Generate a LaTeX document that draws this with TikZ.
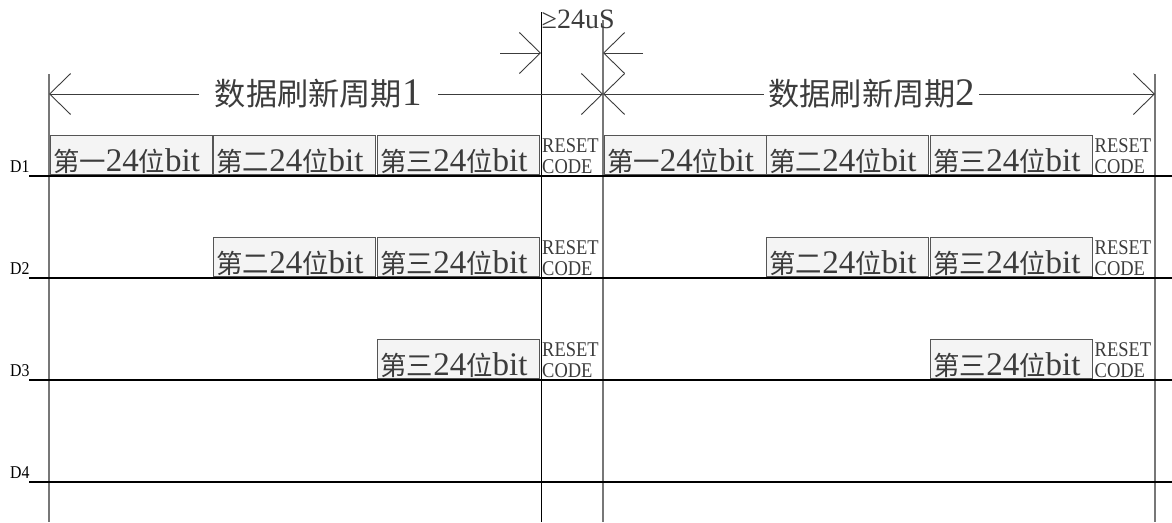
\documentclass[tikz,border=0pt]{standalone}
\usepackage{fontspec}
\setmainfont{Liberation Serif}
\newfontfamily\cjk[Scale=0.8]{Noto Sans CJK SC}
\newfontfamily\narrowrm[FakeStretch=0.88]{Liberation Serif}
\usepackage{tikz}
\usetikzlibrary{%
  arrows.meta,%
  positioning%
}
\definecolor{boxgray}{HTML}{555555}
\definecolor{boxfill}{HTML}{F4F4F4}
\definecolor{textgray}{HTML}{3C3C3C}
\definecolor{railgray}{HTML}{777777}
\newcommand{\zh}[1]{{\cjk #1}}
\newcommand{\bits}[1]{\zh{第#1}24\zh{位}bit}

\begin{document}
\begin{tikzpicture}[x=1pt, y=-1pt,
  >={Straight Barb[length=21pt,width=41pt]},
  bitbox/.style={draw=boxgray, fill=boxfill, line width=1pt, anchor=south west,
    minimum width=162pt, minimum height=39pt, text width=156pt, inner xsep=3pt,
    inner ysep=0pt, text height=34pt, text depth=0pt, align=left, text=textgray,
    font=\fontsize{33}{33}\selectfont},
  rst/.style={anchor=north west, inner sep=0pt, align=left, text=textgray,
    font=\narrowrm\fontsize{21}{21}\selectfont},
  chan/.style={anchor=base west, inner sep=0pt, font=\narrowrm\fontsize{18}{18}\selectfont},
  rail/.style={draw=railgray, line width=1.3pt},
  wire/.style={draw=black, line width=1.6pt},
  periodlabel/.style={fill=white, text=textgray, inner ysep=2pt,
    font=\fontsize{39}{39}\selectfont}]
\useasboundingbox (0,0) rectangle (1172,522);

% time marks
\coordinate (V0t) at (49,74);   \coordinate (V0b) at (49,522);
\coordinate (V1t) at (541,12);  \coordinate (V1b) at (541,522);
\coordinate (V2t) at (603,20);  \coordinate (V2b) at (603,522);
\coordinate (V3t) at (1155,74); \coordinate (V3b) at (1155,522);
\draw
	(V0t) edge[rail] (V0b)
	(V1t) edge[draw=black, line width=0.9pt] (V1b)
	(V2t) edge[rail] (V2b)
	(V3t) edge[rail] (V3b)
;

% channels
\node[chan] (D1) at (10,172.5) {D1};
\node[chan] (D2) at (10,274.5) {D2};
\node[chan] (D3) at (10,376.5) {D3};
\node[chan] (D4) at (10,478.5) {D4};
\coordinate (W1) at (29,176); \coordinate (E1) at (1172,176);
\coordinate (W2) at (29,278); \coordinate (E2) at (1172,278);
\coordinate (W3) at (29,380); \coordinate (E3) at (1172,380);
\coordinate (W4) at (29,482); \coordinate (E4) at (1172,482);
\draw
	(W1) edge[wire] (E1)
	(W2) edge[wire] (E2)
	(W3) edge[wire] (E3)
	(W4) edge[wire] (E4)
;

% 24 bit frames
\node[bitbox] (A1) at (49.5,174.5) {\bits{一}};
\node[bitbox] (A2) at (213,174.5) {\bits{二}};
\node[bitbox] (A3) at (377,174.5) {\bits{三}};
\node[bitbox] (A4) at (603.5,174.5) {\bits{一}};
\node[bitbox] (A5) at (766,174.5) {\bits{二}};
\node[bitbox] (A6) at (930,174.5) {\bits{三}};
\node[bitbox] (B2) at (213,276.5) {\bits{二}};
\node[bitbox] (B3) at (377,276.5) {\bits{三}};
\node[bitbox] (B5) at (766,276.5) {\bits{二}};
\node[bitbox] (B6) at (930,276.5) {\bits{三}};
\node[bitbox] (C3) at (377,378.5) {\bits{三}};
\node[bitbox] (C6) at (930,378.5) {\bits{三}};

% reset
\node[rst] (RA1) at (542,138) {RESET\\CODE};
\node[rst] (RA2) at (1094.5,138) {RESET\\CODE};
\node[rst] (RB1) at (542,240) {RESET\\CODE};
\node[rst] (RB2) at (1094.5,240) {RESET\\CODE};
\node[rst] (RC1) at (542,342) {RESET\\CODE};
\node[rst] (RC2) at (1094.5,342) {RESET\\CODE};

% refresh periods
\coordinate (P0) at (49,94);
\coordinate (P1) at (603,94);
\coordinate (P2) at (1155,94);
\draw[<->, draw=textgray, line width=0.9pt]
	(P0) -- node[periodlabel, pos=0.486, inner xsep=16pt] (T1) {\zh{数据刷新周期}1} (P1);
\draw[<->, draw=textgray, line width=0.9pt]
	(P1) -- node[periodlabel, pos=0.487, inner xsep=4pt] (T2) {\zh{数据刷新周期}2} (P2);

% reset time
\node[anchor=base west, inner sep=0pt, text=textgray, font=\fontsize{28}{28}\selectfont]
	(G) at (541.5,28) {≥24uS};
\coordinate (G0) at (500,53);
\coordinate (G1) at (541,53);
\coordinate (G2) at (603,53);
\coordinate (G3) at (643,53);
\draw[draw=textgray, line width=0.9pt]
	(G0) edge[->] (G1)
	(G3) edge[->] (G2)
;
\end{tikzpicture}
\end{document}
